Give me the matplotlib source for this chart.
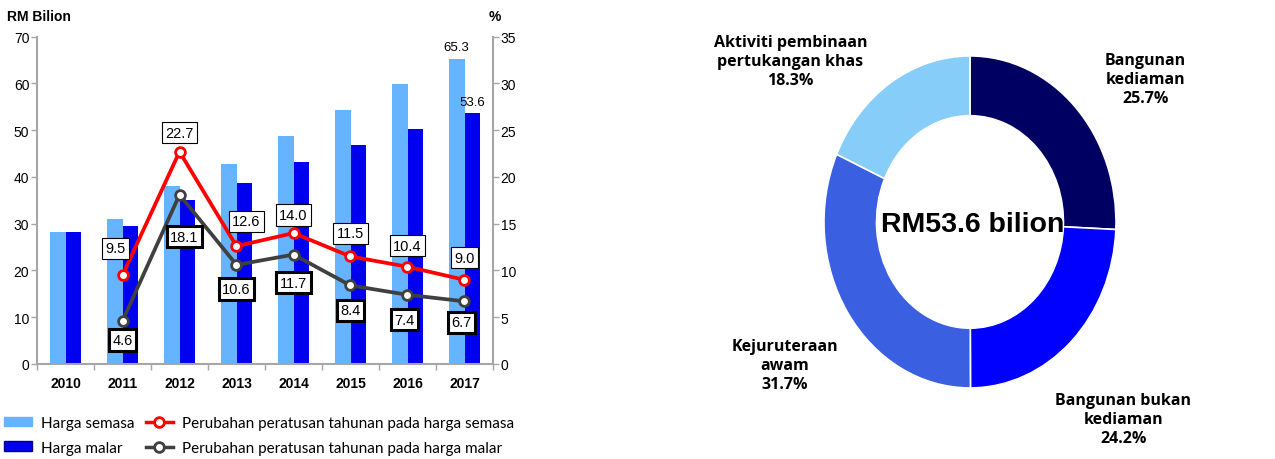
import matplotlib
matplotlib.use("Agg")
import matplotlib.pyplot as plt
import numpy as np
from matplotlib.patches import Patch
from matplotlib.lines import Line2D

# bar data, RM billion
years = ["2010", "2011", "2012", "2013", "2014", "2015", "2016", "2017"]
harga_semasa = [28.3, 31.0, 38.0, 42.8, 48.8, 54.4, 59.9, 65.3]
harga_malar = [28.3, 29.6, 35.0, 38.7, 43.2, 46.8, 50.3, 53.6]

# annual % change, from 2011
pct_years = years[1:]
pct_semasa = [9.5, 22.7, 12.6, 14.0, 11.5, 10.4, 9.0]
pct_malar = [4.6, 18.1, 10.6, 11.7, 8.4, 7.4, 6.7]

# 2017 share by sub-sector
sektor = ["Bangunan\nkediaman", "Bangunan bukan\nkediaman",
          "Kejuruteraan\nawam", "Aktiviti pembinaan\npertukangan khas"]
bahagian = [25.7, 24.2, 31.7, 18.3]
jumlah_label = "RM53.6 bilion"

# label offsets (pixels) for the line value boxes
off_semasa = [(-7, 27), (0, 19), (10, 25), (0, 18), (0, 23), (0, 21), (0, 22)]
off_malar = [(0, -19), (5, -42), (0, -24), (0, -28), (0, -25), (-3, -25), (-3, -21)]
# donut label positions in donut data units
donut_label_pos = [(1.20, 0.86), (1.05, -1.19), (-1.27, -0.86), (-1.23, 0.97)]

C_LIGHT = "#66B3FF"
C_DARK = "#0000F0"
C_RED = "#FF0000"
C_GREY = "#404040"
SPINE = "#A6A6A6"
NUM_FONT = "Liberation Sans"
TXT_FONT = "Lato"
LBL_FONT = "Open Sans"

W, H = 1275, 460
fig = plt.figure(figsize=(W / 100, H / 100), dpi=100)

# ---- left: bar + line chart ----
ax = fig.add_axes([37 / W, 1 - 365 / H, 456 / W, (365 - 37.7) / H])
x = np.arange(len(years))
ax.bar(x - 0.14, harga_semasa, width=0.28, color=C_LIGHT, zorder=2)
ax.bar(x + 0.14, harga_malar, width=0.28, color=C_DARK, zorder=2)
ax.set_xlim(-0.5, len(years) - 0.5)
ax.set_ylim(0, 70)
ax.set_yticks(range(0, 71, 10))
ax.set_xticks(x)
ax.set_xticklabels(years, fontweight="bold", fontsize=10, family=NUM_FONT)
ax.set_xticks(np.arange(-0.5, len(years), 1), minor=True)
ax.tick_params(axis="x", which="major", length=0, pad=8.5)
ax.tick_params(axis="x", which="minor", length=4, color=SPINE, width=1)
ax.tick_params(axis="y", length=4, color=SPINE, width=1, pad=1.5, labelsize=10)
for lab in ax.get_yticklabels():
    lab.set_family(NUM_FONT)
ax.spines["top"].set_visible(False)
ax.spines["right"].set_visible(False)
for s in ("left", "bottom"):
    ax.spines[s].set_color(SPINE)
    ax.spines[s].set_linewidth(1.5)

# value labels on 2017 bars
ax.text(x[-1] - 0.14, harga_semasa[-1] + 1.2, f"{harga_semasa[-1]:.1f}",
        ha="center", va="bottom", fontsize=9.5, family=NUM_FONT)
ax.text(x[-1] + 0.14, harga_malar[-1] + 1.2, f"{harga_malar[-1]:.1f}",
        ha="center", va="bottom", fontsize=9.5, family=NUM_FONT)

ax2 = ax.twinx()
ax2.set_ylim(0, 35)
ax2.set_yticks(range(0, 36, 5))
ax2.tick_params(axis="y", length=4, color=SPINE, width=1, pad=1.5, labelsize=10)
for lab in ax2.get_yticklabels():
    lab.set_family(NUM_FONT)
for s in ("top", "left", "bottom"):
    ax2.spines[s].set_visible(False)
ax2.spines["right"].set_color(SPINE)
ax2.spines["right"].set_linewidth(1.5)

xp = x[1:]
ax2.plot(xp, pct_semasa, color=C_RED, lw=2.7, marker="o", ms=7,
         mfc="white", mec=C_RED, mew=2, zorder=4)
ax2.plot(xp, pct_malar, color=C_GREY, lw=2.7, marker="o", ms=7,
         mfc="white", mec=C_GREY, mew=2, zorder=4)

for xi, v, off in zip(xp, pct_semasa, off_semasa):
    ax2.annotate(f"{v:.1f}", (xi, v), xytext=off, textcoords="offset pixels",
                 ha="center", va="center", fontsize=10.5, family=NUM_FONT,
                 bbox=dict(boxstyle="square,pad=0.25", fc="white", ec="black", lw=0.8),
                 zorder=5)
for xi, v, off in zip(xp, pct_malar, off_malar):
    ax2.annotate(f"{v:.1f}", (xi, v), xytext=off, textcoords="offset pixels",
                 ha="center", va="center", fontsize=10.5, family=NUM_FONT,
                 bbox=dict(boxstyle="square,pad=0.25", fc="white", ec="black", lw=2.2),
                 zorder=5)

fig.text(7 / W, 1 - 17 / H, "RM Bilion", fontsize=10, fontweight="bold",
         family=NUM_FONT, ha="left", va="center")
fig.text(495 / W, 1 - 17 / H, "%", fontsize=10, fontweight="bold",
         family=NUM_FONT, ha="center", va="center")

handles = [
    Patch(facecolor=C_LIGHT, edgecolor=C_LIGHT),
    Patch(facecolor=C_DARK, edgecolor="#000080"),
    Line2D([], [], color=C_RED, lw=2.5, marker="o", ms=7, mfc="white", mec=C_RED, mew=2),
    Line2D([], [], color=C_GREY, lw=2.5, marker="o", ms=7, mfc="white", mec=C_GREY, mew=2),
]
labels = ["Harga semasa", "Harga malar",
          "Perubahan peratusan tahunan pada harga semasa",
          "Perubahan peratusan tahunan pada harga malar"]
fig.legend(handles, labels, ncol=2, loc="upper left",
           bbox_to_anchor=(4 / W, 1 - 417 / H), frameon=False,
           prop=dict(family=TXT_FONT, size=11), handlelength=1.8,
           handleheight=0.6, handletextpad=0.6, columnspacing=0.75,
           labelspacing=0.7, borderpad=0, borderaxespad=0)

# ---- right: donut ----
ax3 = fig.add_axes([680 / W, 0, 595 / W, 1])
ax3.pie(bahagian, colors=["#000063", "#0000FF", "#3A5FE0", "#87CDF9"],
        startangle=90, counterclock=False, radius=1,
        wedgeprops=dict(width=0.36, edgecolor="white", linewidth=1.2))
ax3.set_aspect("auto")
ax3.set_xlim(-1.986, 2.089)
ax3.set_ylim(-1.428, 1.343)
ax3.axis("off")

ax3.text(0.02, -0.01, jumlah_label, ha="center", va="center", fontsize=20.5,
         fontweight="bold", family=NUM_FONT)
for name, share, (lx, ly) in zip(sektor, bahagian, donut_label_pos):
    ax3.text(lx, ly, f"{name}\n{share:.1f}%", ha="center", va="center",
             fontsize=11.5, fontweight="bold", family=LBL_FONT, linespacing=1.25)

fig.savefig("out.png", dpi=100)
